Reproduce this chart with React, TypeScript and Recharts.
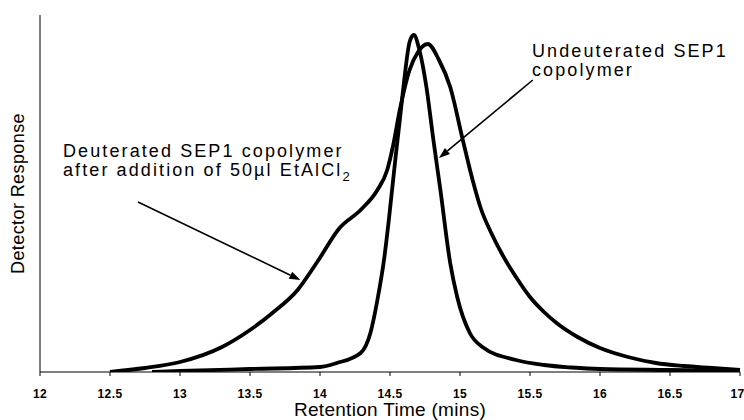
import { LineChart, Line, XAxis, YAxis, ReferenceLine } from 'recharts'

const FONT = '"Liberation Sans", Arial, sans-serif'

// retention time (mins) / detector response (arbitrary units)
const deuteratedTime = [
  12.5, 12.75, 13.0, 13.3, 13.5, 13.66, 13.84, 13.98, 14.14, 14.29, 14.41, 14.48, 14.52, 14.57, 14.64,
  14.7, 14.77, 14.85, 14.93, 15.02, 15.09, 15.15, 15.22, 15.3, 15.4, 15.5, 15.6, 15.69, 15.84, 16.0,
  16.2, 16.4, 16.6, 16.8, 17.0,
]
const deuteratedResponse = [
  0, 4, 10, 25, 42, 59, 82, 110, 144, 162, 182, 202, 225, 262, 302, 320, 328, 312, 285, 232, 192, 163,
  140, 118, 95, 75, 60, 49, 35, 24, 15, 9, 6, 4, 2,
]

const undeuteratedTime = [
  12.8, 13.0, 13.5, 14.0, 14.12, 14.29, 14.36, 14.41, 14.46, 14.49, 14.54, 14.57, 14.6, 14.64, 14.67,
  14.71, 14.76, 14.81, 14.86, 14.93, 14.98, 15.07, 15.16, 15.4, 15.6, 15.8, 16.0, 16.5, 17.0,
]
const undeuteratedResponse = [
  0, 1, 3, 5, 9, 19, 39, 72, 115, 150, 215, 252, 290, 330, 337, 322, 285, 232, 182, 109, 75, 39, 25, 12,
  7, 4.5, 3, 2, 1,
]

const xTicks = [12, 12.5, 13, 13.5, 14, 14.5, 15, 15.5, 16, 16.5, 17]

// annotation arrows: [start, tip] in data units
const deuteratedArrow = [
  { x: 12.7, y: 170 },
  { x: 13.86, y: 92 },
]
const undeuteratedArrow = [
  { x: 15.52, y: 292 },
  { x: 14.85, y: 214 },
]

const deuteratedData = deuteratedTime.map((t, i) => ({ time: t, response: deuteratedResponse[i] }))
const undeuteratedData = undeuteratedTime.map((t, i) => ({ time: t, response: undeuteratedResponse[i] }))

const Arrow = (props: any) => {
  const { x1, y1, x2, y2 } = props
  const a = Math.atan2(y2 - y1, x2 - x1)
  const len = 11
  const w = 4
  const bx = x2 - len * Math.cos(a)
  const by = y2 - len * Math.sin(a)
  const px = -Math.sin(a) * w
  const py = Math.cos(a) * w
  return (
    <g>
      <line x1={x1} y1={y1} x2={bx} y2={by} stroke="#000" strokeWidth={1.6} />
      <polygon points={`${x2},${y2} ${bx + px},${by + py} ${bx - px},${by - py}`} fill="#000" />
    </g>
  )
}

const YTitle = ({ viewBox }: any) => {
  const x = viewBox.x + viewBox.width - 22
  const y = viewBox.y + viewBox.height / 2
  return (
    <text
      x={x}
      y={y}
      transform={`rotate(-90 ${x} ${y})`}
      textAnchor="middle"
      dominantBaseline="central"
      fontSize={18}
      fontFamily={FONT}
      fill="#000"
      letterSpacing={0.4}
    >
      Detector Response
    </text>
  )
}

const annotation = {
  position: 'absolute' as const,
  fontFamily: FONT,
  fontSize: 18,
  lineHeight: '19px',
  letterSpacing: 2.1,
  color: '#000',
  whiteSpace: 'nowrap' as const,
}

export default function App() {
  return (
    <div style={{ position: 'absolute', left: 0, top: 0, width: 744, height: 420, background: '#fff' }}>
      <LineChart
        width={744}
        height={420}
        margin={{ top: 15, right: 4, left: 10, bottom: 0 }}
        style={{ fontFamily: FONT }}
      >
        <XAxis
          dataKey="time"
          type="number"
          domain={[12, 17]}
          ticks={xTicks}
          allowDuplicatedCategory={false}
          height={48}
          stroke="#000"
          tickSize={4}
          tickMargin={13}
          tick={{ fill: '#000', fontSize: 12, fontWeight: 'bold', fontFamily: FONT, letterSpacing: 0.4 }}
          label={{
            value: 'Retention Time (mins)',
            position: 'insideBottom',
            offset: 4,
            fill: '#000',
            fontSize: 19,
            fontFamily: FONT,
            letterSpacing: 0.3,
          }}
        />
        <YAxis
          type="number"
          domain={[0, 357]}
          allowDataOverflow
          width={30}
          tick={false}
          tickLine={false}
          stroke="#000"
          label={{ content: YTitle }}
        />
        <Line
          data={deuteratedData}
          dataKey="response"
          type="monotone"
          stroke="#000"
          strokeWidth={3.8}
          dot={false}
          isAnimationActive={false}
        />
        <Line
          data={undeuteratedData}
          dataKey="response"
          type="monotone"
          stroke="#000"
          strokeWidth={3.8}
          dot={false}
          isAnimationActive={false}
        />
        <ReferenceLine segment={deuteratedArrow} shape={Arrow} ifOverflow="visible" />
        <ReferenceLine segment={undeuteratedArrow} shape={Arrow} ifOverflow="visible" />
      </LineChart>
      <div style={{ ...annotation, left: 63, top: 142 }}>
        Deuterated SEP1 copolymer
        <br />
        after addition of 50µl EtAlCl
        <sub style={{ fontSize: 13, lineHeight: 0, letterSpacing: 0 }}>2</sub>
      </div>
      <div style={{ ...annotation, left: 532, top: 42 }}>
        Undeuterated SEP1
        <br />
        copolymer
      </div>
    </div>
  )
}
